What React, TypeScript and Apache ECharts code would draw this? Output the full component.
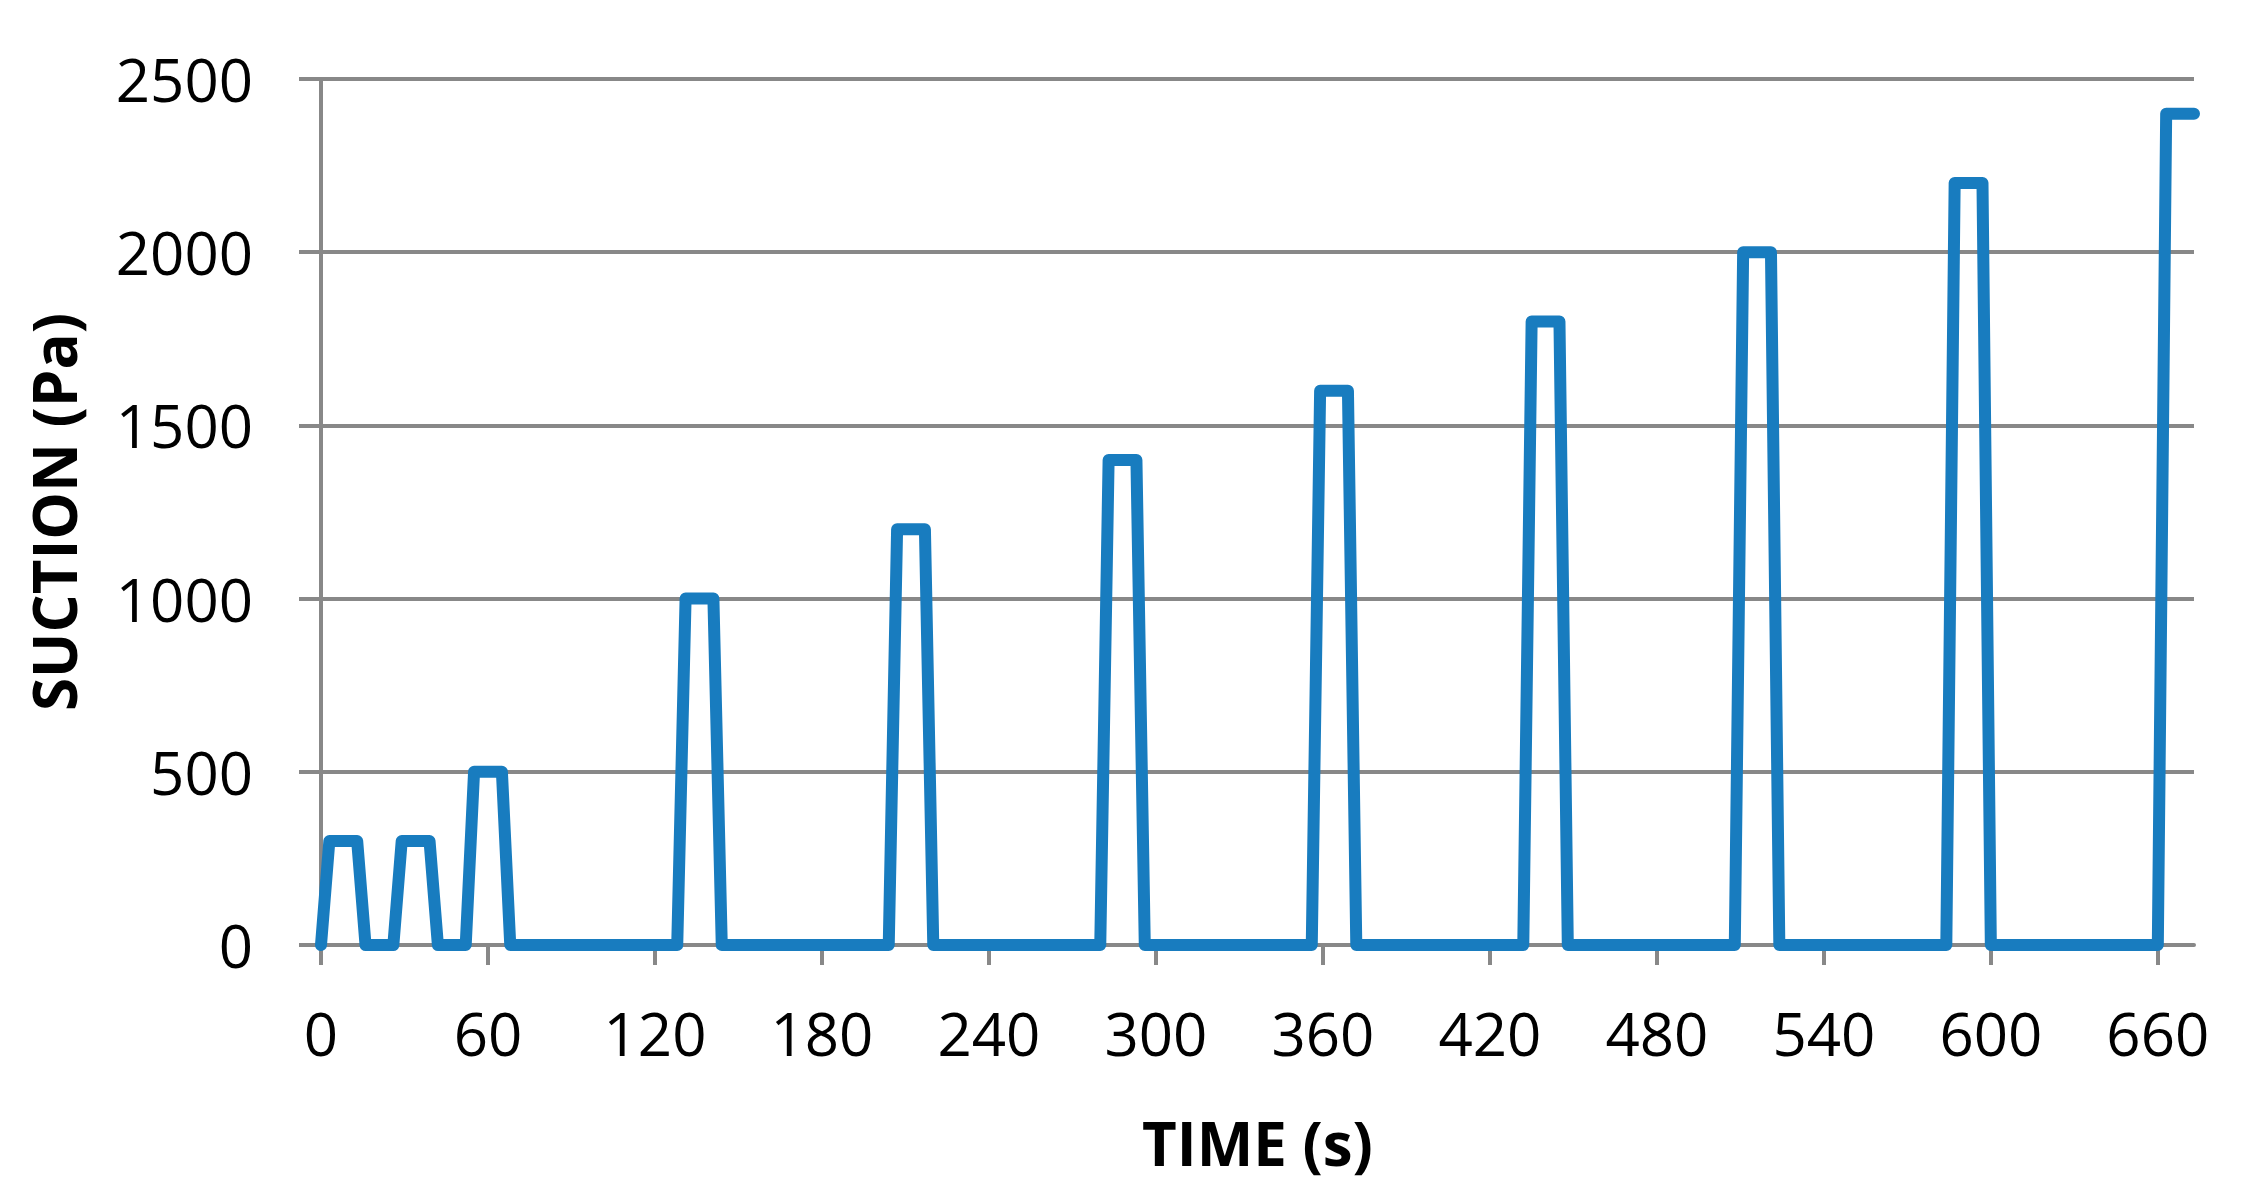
import React, { useEffect, useRef } from "react";
import * as echarts from "echarts";

// Time (s) and suction (Pa)
const timeSeconds = [
  0, 3, 13, 16, 26, 29, 39, 42, 52, 55, 65, 68,
  128, 131, 141, 144,
  204, 207, 217, 220,
  280, 283, 293, 296,
  356, 359, 369, 372,
  432, 435, 445, 448,
  508, 511, 521, 524,
  584, 587, 597, 600,
  660, 663, 673,
];
const suctionPa = [
  0, 300, 300, 0, 0, 300, 300, 0, 0, 500, 500, 0,
  0, 1000, 1000, 0,
  0, 1200, 1200, 0,
  0, 1400, 1400, 0,
  0, 1600, 1600, 0,
  0, 1800, 1800, 0,
  0, 2000, 2000, 0,
  0, 2200, 2200, 0,
  0, 2400, 2400,
];
const xTicks = [0, 60, 120, 180, 240, 300, 360, 420, 480, 540, 600, 660];
const yTicks = [0, 500, 1000, 1500, 2000, 2500];

const GRAY = "#888888";
const BLUE = "#187cbf";
const FONT = "Open Sans";

export default function App() {
  const ref = useRef<HTMLDivElement>(null);
  useEffect(() => {
    if (!ref.current) return;
    const chart = echarts.init(ref.current, null, { renderer: "svg" });
    const data = timeSeconds.map((t, i) => [t, suctionPa[i]]);
    chart.setOption({
      animation: false,
      backgroundColor: "#ffffff",
      grid: { left: 321, right: 54, top: 79, bottom: 255, containLabel: false },
      xAxis: {
        type: "value",
        min: 0,
        max: 673,
        interval: 60,
        name: "TIME (s)",
        nameLocation: "middle",
        nameGap: 168,
        nameTextStyle: { fontFamily: FONT, fontWeight: "bold", fontSize: 60, color: "#000" },
        axisLine: { show: true, lineStyle: { color: GRAY, width: 4 } },
        axisTick: { show: true, length: 20, lineStyle: { color: GRAY, width: 4 }, customValues: xTicks },
        axisLabel: {
          customValues: xTicks,
          margin: 58,
          fontFamily: FONT,
          fontSize: 60,
          color: "#000",
          formatter: (v: number) => String(v),
        },
        splitLine: { show: false },
      },
      yAxis: {
        type: "value",
        min: 0,
        max: 2500,
        interval: 500,
        name: "SUCTION (Pa)",
        nameLocation: "middle",
        nameGap: 237,
        nameRotate: 90,
        nameTextStyle: { fontFamily: FONT, fontWeight: "bold", fontSize: 60, color: "#000" },
        axisLine: { show: true, lineStyle: { color: GRAY, width: 4 } },
        axisTick: { show: true, length: 22, lineStyle: { color: GRAY, width: 4 }, customValues: yTicks },
        axisLabel: {
          customValues: yTicks,
          margin: 68,
          fontFamily: FONT,
          fontSize: 60,
          color: "#000",
          formatter: (v: number) => String(v),
        },
        splitLine: { show: true, lineStyle: { color: GRAY, width: 4 } },
      },
      series: [
        {
          type: "line",
          data,
          showSymbol: false,
          smooth: false,
          lineStyle: { color: BLUE, width: 12, join: "round", cap: "round" },
          itemStyle: { color: BLUE },
        },
      ],
    });
    return () => chart.dispose();
  }, []);
  return (
    <div
      ref={ref}
      style={{ position: "fixed", left: 0, top: 0, width: 2248, height: 1200, background: "#fff" }}
    />
  );
}
